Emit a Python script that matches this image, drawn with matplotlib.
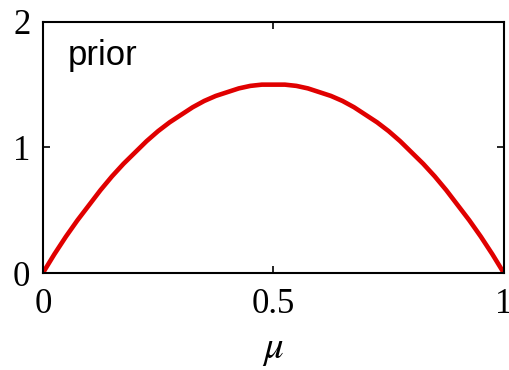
import numpy as np
import matplotlib.pyplot as plt

plt.rcParams["mathtext.fontset"] = "stix"

# values
mu = [0.000, 0.025, 0.050, 0.075, 0.100, 0.125, 0.150, 0.175, 0.200, 0.225,
      0.250, 0.275, 0.300, 0.325, 0.350, 0.375, 0.400, 0.425, 0.450, 0.475,
      0.500, 0.525, 0.550, 0.575, 0.600, 0.625, 0.650, 0.675, 0.700, 0.725,
      0.750, 0.775, 0.800, 0.825, 0.850, 0.875, 0.900, 0.925, 0.950, 0.975, 1.000]
density = [0.00, 0.15, 0.29, 0.42, 0.54, 0.66, 0.77, 0.87, 0.96, 1.05,
           1.13, 1.20, 1.26, 1.32, 1.37, 1.41, 1.44, 1.47, 1.49, 1.50,
           1.50, 1.50, 1.49, 1.47, 1.44, 1.41, 1.37, 1.32, 1.26, 1.20,
           1.13, 1.05, 0.96, 0.87, 0.77, 0.66, 0.54, 0.42, 0.29, 0.15, 0.00]

x_ticks = [0, 0.5, 1]
x_labels = ["0", "0.5", "1"]
y_ticks = [0, 1, 2]
y_labels = ["0", "1", "2"]

fig = plt.figure(figsize=(5.1, 3.7), dpi=100)
ax = fig.add_axes([0.084, 0.262, 0.904, 0.679])

ax.plot(mu, density, color="#e00000", linewidth=3.3, solid_capstyle="butt",
        solid_joinstyle="round")

ax.set_xlim(0, 1)
ax.set_ylim(0, 2)
ax.set_xticks(x_ticks)
ax.set_xticklabels(x_labels, family="Liberation Serif", fontsize=25)
ax.set_yticks(y_ticks)
ax.set_yticklabels(y_labels, family="Liberation Serif", fontsize=25)
ax.tick_params(direction="in", length=5, width=1.2, top=True, right=True)
ax.tick_params(axis="x", pad=11)
ax.tick_params(axis="y", pad=9)
for sp in ax.spines.values():
    sp.set_linewidth(1.5)

ax.set_xlabel(r"$\mu$", fontsize=28, labelpad=6)

ax.text(0.055, 0.93, "prior", transform=ax.transAxes, family="Liberation Sans",
        fontsize=25, va="top", ha="left")

fig.savefig("out.png", dpi=100)
